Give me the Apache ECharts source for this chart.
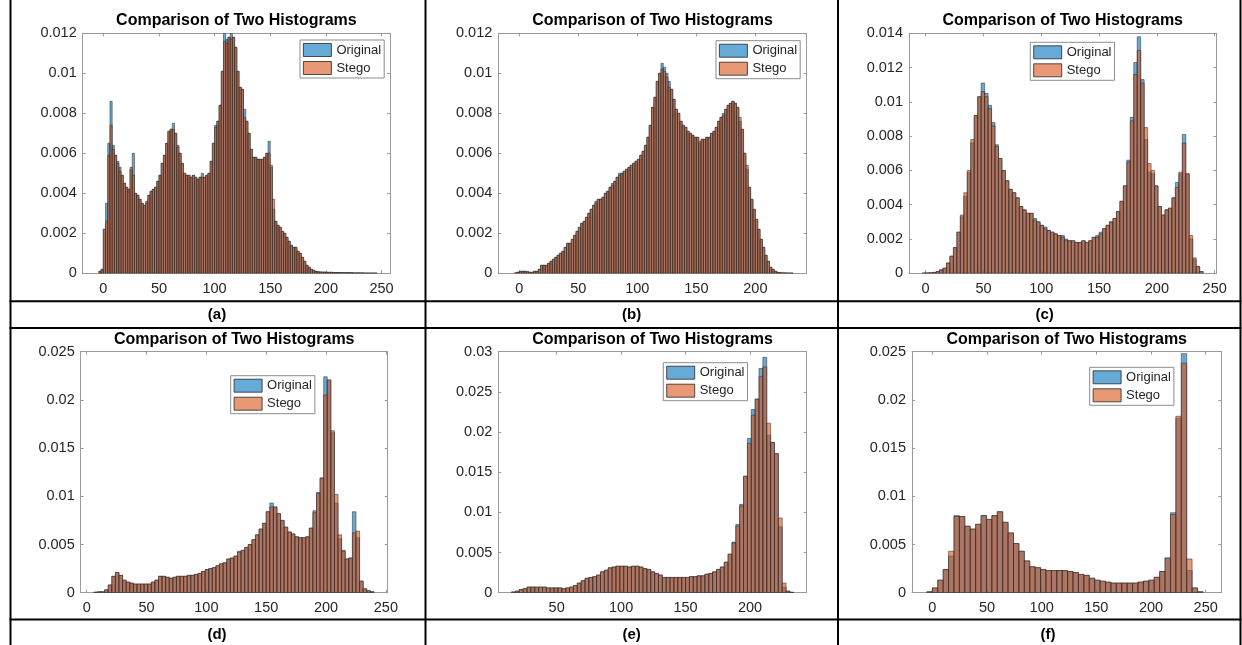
<!DOCTYPE html>
<html>
<head>
<meta charset="utf-8">
<script src="https://cdn.jsdelivr.net/npm/echarts@6/dist/echarts.min.js"></script>
<style>
  html, body { margin: 0; padding: 0; background: #fff; }
  #chart { width: 1242px; height: 645px; }
</style>
</head>
<body>
<div id="chart"></div>
<script>
// ---- data: probability per bin ----
const seriesNames = ['Original', 'Stego'];
const plotTitle = 'Comparison of Two Histograms';
const captions = ['(a)', '(b)', '(c)', '(d)', '(e)', '(f)'];

// (a) bins of width 2 starting at -4
const aStart = -4, aWidth = 2;
const aOriginal = [
  0.0001, 0.0002, 0.0022, 0.0035, 0.0065, 0.0086, 0.0064, 0.0059, 0.0056, 0.0053,
  0.0049, 0.0045, 0.0043, 0.0042, 0.0052, 0.0060, 0.0040, 0.0039, 0.0037, 0.0035,
  0.0034, 0.0036, 0.0039, 0.0041, 0.0042, 0.0043, 0.0046, 0.0049, 0.0055, 0.0059,
  0.0065, 0.0071, 0.0072, 0.0075, 0.0070, 0.0064, 0.0060, 0.0055, 0.0050, 0.0049,
  0.0049, 0.0048, 0.0049, 0.0048, 0.0047, 0.0048, 0.0050, 0.0048, 0.0049, 0.0050,
  0.0056, 0.0065, 0.0074, 0.0076, 0.0084, 0.0101, 0.0120, 0.0117, 0.0118, 0.0120,
  0.0118, 0.0113, 0.0101, 0.0093, 0.0092, 0.0082, 0.0076, 0.0070, 0.0062, 0.0058,
  0.0058, 0.0057, 0.0057, 0.0057, 0.0058, 0.0060, 0.0066, 0.0053, 0.0032, 0.0026,
  0.0024, 0.0023, 0.0021, 0.0020, 0.0018, 0.0016, 0.0014, 0.0013, 0.0013, 0.0011,
  0.0010, 0.0008, 0.0006, 0.0004, 0.0003, 0.0002, 0.00015, 0.0001, 0.00008, 0.00007,
  0.00006, 0.00006, 0.00005, 0.00005, 0.00005, 0.00004, 0.00004, 0.00004, 0.00004, 0.00003,
  0.00003, 0.00003, 0.00003, 0.00003, 0.00002, 0.00002, 0.00002, 0.00002, 0.00002, 0.00001,
  0.00001, 0.00001, 0.00001, 0.00001, 0.00001
];
const aStego = [
  0.0001, 0.0002, 0.0022, 0.0026, 0.0059, 0.0074, 0.0062, 0.0059, 0.0055, 0.0051,
  0.0049, 0.0045, 0.0043, 0.0042, 0.0053, 0.0049, 0.0040, 0.0039, 0.0037, 0.0035,
  0.0034, 0.0035, 0.0039, 0.0041, 0.0042, 0.0043, 0.0046, 0.0049, 0.0055, 0.0059,
  0.0065, 0.0071, 0.0072, 0.0072, 0.0070, 0.0063, 0.0060, 0.0055, 0.0050, 0.0049,
  0.0049, 0.0048, 0.0049, 0.0048, 0.0047, 0.0048, 0.0048, 0.0048, 0.0049, 0.0050,
  0.0056, 0.0065, 0.0073, 0.0076, 0.0084, 0.0101, 0.0116, 0.0115, 0.0118, 0.0117,
  0.0118, 0.0113, 0.0101, 0.0093, 0.0092, 0.0078, 0.0076, 0.0070, 0.0062, 0.0058,
  0.0058, 0.0057, 0.0057, 0.0057, 0.0058, 0.0060, 0.0060, 0.0054, 0.0037, 0.0026,
  0.0024, 0.0023, 0.0021, 0.0020, 0.0018, 0.0016, 0.0014, 0.0013, 0.0013, 0.0011,
  0.0010, 0.0008, 0.0006, 0.0004, 0.0003, 0.0002, 0.00015, 0.0001, 0.00008, 0.00007,
  0.00006, 0.00006, 0.00005, 0.00005, 0.00005, 0.00004, 0.00004, 0.00004, 0.00004, 0.00003,
  0.00003, 0.00003, 0.00003, 0.00003, 0.00002, 0.00002, 0.00002, 0.00002, 0.00002, 0.00001,
  0.00001, 0.00001, 0.00001, 0.00001, 0.00001
];

// (b) bins of width 2 starting at -4
const bStart = -4, bWidth = 2;
const bOriginal = [
  0.00002, 0.00005, 0.0001, 0.0001, 0.0001, 0.00008, 0.00005, 0.00005, 0.0001, 0.0001,
  0.0002, 0.0004, 0.0004, 0.0004, 0.0005, 0.0006, 0.0007, 0.0008, 0.0009, 0.0010,
  0.0011, 0.0013, 0.0015, 0.0015, 0.0017, 0.0019, 0.0021, 0.0023, 0.0025, 0.0026,
  0.0028, 0.0030, 0.0032, 0.0034, 0.0036, 0.0037, 0.0037, 0.0038, 0.0040, 0.0041,
  0.0043, 0.0045, 0.0046, 0.0048, 0.0050, 0.0050, 0.0051, 0.0052, 0.0053, 0.0054,
  0.0055, 0.0056, 0.0057, 0.0059, 0.0061, 0.0064, 0.0068, 0.0074, 0.0083, 0.0088,
  0.0096, 0.0100, 0.0105, 0.0103, 0.0100, 0.0096, 0.0092, 0.0087, 0.0082, 0.0080,
  0.0076, 0.0074, 0.0073, 0.0071, 0.0070, 0.0069, 0.0068, 0.0068, 0.0065, 0.0067,
  0.0067, 0.0068, 0.0068, 0.0070, 0.0071, 0.0073, 0.0076, 0.0078, 0.0080, 0.0082,
  0.0084, 0.0085, 0.0086, 0.0085, 0.0083, 0.0076, 0.0072, 0.0060, 0.0052, 0.0043,
  0.0037, 0.0032, 0.0027, 0.0022, 0.0017, 0.0013, 0.0009, 0.0006, 0.0003, 0.0002,
  0.0001, 0.00005, 0.00003, 0.00002, 0.00002, 0.00001, 0.00001, 0.00001
];
const bStego = [
  0.00002, 0.00005, 0.0001, 0.0001, 0.0001, 0.00008, 0.00005, 0.00005, 0.0001, 0.0001,
  0.0002, 0.0004, 0.0004, 0.0004, 0.0005, 0.0006, 0.0007, 0.0008, 0.0009, 0.0010,
  0.0011, 0.0013, 0.0015, 0.0015, 0.0017, 0.0019, 0.0021, 0.0023, 0.0025, 0.0026,
  0.0028, 0.0030, 0.0032, 0.0034, 0.0035, 0.0037, 0.0037, 0.0038, 0.0040, 0.0041,
  0.0043, 0.0044, 0.0046, 0.0048, 0.0049, 0.0050, 0.0051, 0.0052, 0.0053, 0.0054,
  0.0055, 0.0056, 0.0057, 0.0059, 0.0061, 0.0064, 0.0068, 0.0074, 0.0083, 0.0088,
  0.0096, 0.0100, 0.0102, 0.0101, 0.0098, 0.0093, 0.0092, 0.0087, 0.0082, 0.0080,
  0.0076, 0.0074, 0.0073, 0.0071, 0.0070, 0.0069, 0.0068, 0.0068, 0.0066, 0.0067,
  0.0067, 0.0068, 0.0068, 0.0070, 0.0071, 0.0073, 0.0076, 0.0078, 0.0079, 0.0082,
  0.0084, 0.0085, 0.0086, 0.0085, 0.0083, 0.0078, 0.0072, 0.0060, 0.0054, 0.0043,
  0.0037, 0.0032, 0.0027, 0.0022, 0.0017, 0.0013, 0.0009, 0.0006, 0.0003, 0.0002,
  0.0001, 0.00005, 0.00003, 0.00002, 0.00002, 0.00001, 0.00001, 0.00001
];

// (c) bins of width 3 starting at -3
const cStart = -3, cWidth = 3;
const cOriginal = [
  0.00001, 0.00002, 0.00003, 0.00005, 0.0001, 0.0002, 0.0003, 0.0006, 0.0010, 0.0015,
  0.0024, 0.0033, 0.0045, 0.0059, 0.0076, 0.0092, 0.0103, 0.0111, 0.0105, 0.0098,
  0.0088, 0.0075, 0.0067, 0.0060, 0.0054, 0.0049, 0.0047, 0.0044, 0.0039, 0.0037,
  0.0035, 0.0035, 0.0032, 0.0030, 0.0028, 0.0027, 0.0025, 0.0024, 0.0023, 0.0022,
  0.0022, 0.0020, 0.0019, 0.0019, 0.0018, 0.0018, 0.0019, 0.0018, 0.0019, 0.0021,
  0.0022, 0.0024, 0.0026, 0.0028, 0.0030, 0.0032, 0.0036, 0.0042, 0.0051, 0.0066,
  0.0091, 0.0123, 0.0138, 0.0113, 0.0078, 0.0059, 0.0058, 0.0051, 0.0039, 0.0034,
  0.0037, 0.0038, 0.0044, 0.0053, 0.0058, 0.0081, 0.0058, 0.0020, 0.0008, 0.0004,
  0.0001
];
const cStego = [
  0.00001, 0.00002, 0.00003, 0.00005, 0.0001, 0.0002, 0.0003, 0.0006, 0.0010, 0.0015,
  0.0024, 0.0034, 0.0047, 0.0060, 0.0078, 0.0092, 0.0103, 0.0106, 0.0103, 0.0096,
  0.0086, 0.0074, 0.0067, 0.0060, 0.0054, 0.0049, 0.0047, 0.0044, 0.0039, 0.0037,
  0.0035, 0.0035, 0.0031, 0.0030, 0.0028, 0.0026, 0.0025, 0.0024, 0.0023, 0.0022,
  0.0021, 0.0019, 0.0019, 0.0019, 0.0018, 0.0018, 0.0019, 0.0018, 0.0019, 0.0021,
  0.0021, 0.0023, 0.0026, 0.0028, 0.0030, 0.0032, 0.0036, 0.0042, 0.0051, 0.0065,
  0.0089, 0.0116, 0.0130, 0.0111, 0.0085, 0.0064, 0.0060, 0.0051, 0.0039, 0.0034,
  0.0037, 0.0038, 0.0044, 0.0050, 0.0059, 0.0076, 0.0058, 0.0022, 0.0009, 0.0004,
  0.0001
];

// (d) bins of width 3 starting at 6
const dStart = 6, dWidth = 3;
const dOriginal = [
  0.00005, 0.0001, 0.0001, 0.0003, 0.0008, 0.0017, 0.0021, 0.0018, 0.0013, 0.0011,
  0.0010, 0.0009, 0.0009, 0.0009, 0.0009, 0.0009, 0.0011, 0.0013, 0.0017, 0.0017,
  0.0016, 0.0015, 0.0016, 0.0017, 0.0017, 0.0017, 0.0018, 0.0018, 0.0019, 0.0020,
  0.0022, 0.0024, 0.0025, 0.0026, 0.0028, 0.0030, 0.0031, 0.0035, 0.0036, 0.0038,
  0.0043, 0.0044, 0.0047, 0.0050, 0.0055, 0.0060, 0.0066, 0.0072, 0.0084, 0.0093,
  0.0089, 0.0082, 0.0075, 0.0068, 0.0063, 0.0061, 0.0058, 0.0057, 0.0057, 0.0058,
  0.0067, 0.0085, 0.0104, 0.0119, 0.0224, 0.0220, 0.0166, 0.0093, 0.0056, 0.0044,
  0.0035, 0.0036, 0.0084, 0.0057, 0.0012, 0.0004, 0.0002, 0.0001
];
const dStego = [
  0.00005, 0.0001, 0.0001, 0.0003, 0.0008, 0.0017, 0.0021, 0.0018, 0.0013, 0.0011,
  0.0010, 0.0009, 0.0009, 0.0009, 0.0009, 0.0009, 0.0011, 0.0013, 0.0017, 0.0017,
  0.0016, 0.0015, 0.0016, 0.0017, 0.0017, 0.0017, 0.0018, 0.0018, 0.0019, 0.0020,
  0.0022, 0.0024, 0.0025, 0.0026, 0.0028, 0.0030, 0.0031, 0.0035, 0.0036, 0.0038,
  0.0042, 0.0044, 0.0047, 0.0050, 0.0055, 0.0060, 0.0066, 0.0072, 0.0084, 0.0089,
  0.0089, 0.0082, 0.0075, 0.0068, 0.0063, 0.0061, 0.0058, 0.0057, 0.0057, 0.0058,
  0.0067, 0.0083, 0.0103, 0.0119, 0.0205, 0.0221, 0.0168, 0.0102, 0.0060, 0.0043,
  0.0035, 0.0036, 0.0062, 0.0064, 0.0012, 0.0004, 0.0002, 0.0001
];

// (e) bins of width 3 starting at 15
const eStart = 15, eWidth = 3;
const eOriginal = [
  0.0001, 0.0002, 0.0004, 0.0005, 0.0007, 0.0007, 0.0007, 0.0007, 0.0007, 0.0006,
  0.0006, 0.0006, 0.0006, 0.0005, 0.0006, 0.0007, 0.0009, 0.0012, 0.0015, 0.0018,
  0.0019, 0.0020, 0.0022, 0.0026, 0.0028, 0.0031, 0.0032, 0.0033, 0.0033, 0.0033,
  0.0032, 0.0033, 0.0033, 0.0032, 0.0030, 0.0029, 0.0026, 0.0024, 0.0022, 0.0019,
  0.0019, 0.0019, 0.0019, 0.0019, 0.0019, 0.0019, 0.0020, 0.0020, 0.0021, 0.0021,
  0.0023, 0.0024, 0.0026, 0.0029, 0.0032, 0.0038, 0.0048, 0.0063, 0.0085, 0.0110,
  0.0145, 0.0192, 0.0228, 0.0241, 0.0279, 0.0293, 0.0196, 0.0187, 0.0173, 0.0082,
  0.0007, 0.0002, 0.00005
];
const eStego = [
  0.0001, 0.0002, 0.0004, 0.0005, 0.0007, 0.0007, 0.0007, 0.0007, 0.0007, 0.0006,
  0.0006, 0.0006, 0.0006, 0.0005, 0.0006, 0.0007, 0.0009, 0.0012, 0.0015, 0.0018,
  0.0019, 0.0020, 0.0022, 0.0026, 0.0028, 0.0031, 0.0032, 0.0033, 0.0033, 0.0033,
  0.0032, 0.0033, 0.0033, 0.0032, 0.0030, 0.0029, 0.0026, 0.0024, 0.0022, 0.0019,
  0.0019, 0.0019, 0.0019, 0.0019, 0.0019, 0.0019, 0.0020, 0.0020, 0.0021, 0.0021,
  0.0023, 0.0024, 0.0026, 0.0029, 0.0032, 0.0038, 0.0048, 0.0062, 0.0083, 0.0108,
  0.0145, 0.0186, 0.0221, 0.0241, 0.0269, 0.0281, 0.0211, 0.0187, 0.0173, 0.0093,
  0.0012, 0.0002, 0.00005
];

// (f) bins of width ~4.95 starting one bin below 0
const fStart = -4.95, fWidth = 4.95;
const fOriginal = [
  0.0001, 0.0005, 0.0013, 0.0024, 0.0038, 0.0080, 0.0079, 0.0069, 0.0066, 0.0071,
  0.0080, 0.0076, 0.0080, 0.0084, 0.0073, 0.0062, 0.0051, 0.0043, 0.0033, 0.0027,
  0.0026, 0.0024, 0.0023, 0.0023, 0.0023, 0.0023, 0.0022, 0.0021, 0.0019, 0.0018,
  0.0015, 0.0013, 0.0012, 0.0011, 0.0010, 0.0010, 0.0010, 0.0010, 0.0010, 0.0011,
  0.0012, 0.0013, 0.0016, 0.0022, 0.0036, 0.0083, 0.0181, 0.0248, 0.0023, 0.0005,
  0.0001
];
const fStego = [
  0.0001, 0.0005, 0.0013, 0.0024, 0.0043, 0.0079, 0.0079, 0.0069, 0.0066, 0.0071,
  0.0080, 0.0076, 0.0080, 0.0084, 0.0073, 0.0062, 0.0051, 0.0043, 0.0033, 0.0027,
  0.0026, 0.0024, 0.0023, 0.0023, 0.0023, 0.0023, 0.0022, 0.0021, 0.0019, 0.0018,
  0.0015, 0.0013, 0.0012, 0.0011, 0.0010, 0.0010, 0.0010, 0.0010, 0.0010, 0.0011,
  0.0012, 0.0013, 0.0016, 0.0022, 0.0036, 0.0081, 0.0183, 0.0238, 0.0035, 0.0005,
  0.0001
];

const histograms = [
  { start: aStart, width: aWidth, original: aOriginal, stego: aStego },
  { start: bStart, width: bWidth, original: bOriginal, stego: bStego },
  { start: cStart, width: cWidth, original: cOriginal, stego: cStego },
  { start: dStart, width: dWidth, original: dOriginal, stego: dStego },
  { start: eStart, width: eWidth, original: eOriginal, stego: eStego },
  { start: fStart, width: fWidth, original: fOriginal, stego: fStego }
];

// y axis top value and step per panel
const yMax = [0.012, 0.012, 0.014, 0.025, 0.03, 0.025];
const yStep = [0.002, 0.002, 0.002, 0.005, 0.005, 0.005];

// ---- layout (pixels) ----
const layout = [
  { grid: [82.7, 33.3, 307.3, 240], x: [-18.5, 257.6], legend: [300, 40], title: [236.4, 20.7], caption: [217, 315] },
  { grid: [498.3, 33.3, 308.4, 240], x: [-17.8, 243.5], legend: [716, 40.7], title: [652.5, 20.7], caption: [631.7, 315] },
  { grid: [909, 33.3, 307.3, 240], x: [-14.4, 251.4], legend: [1030.3, 42.3], title: [1062.7, 20.7], caption: [1044.7, 315] },
  { grid: [80.7, 351.7, 307, 241], x: [-5, 251.5], legend: [230.7, 375.7], title: [234.2, 340], caption: [217, 635] },
  { grid: [498.3, 351.7, 308.4, 241], x: [4.7, 244], legend: [663.3, 362.7], title: [652.5, 340], caption: [631.7, 635] },
  { grid: [912, 351.7, 309.3, 241], x: [-18.6, 264.3], legend: [1089.7, 367.3], title: [1066.7, 340], caption: [1048, 635] }
];

const FONT = '"Liberation Sans", Arial, Helvetica, sans-serif';
const BOX = '#9a9a9a';
const TEXT = '#262626';
const fills = ['rgba(0,114,189,0.6)', 'rgba(217,83,25,0.6)'];

const chart = echarts.init(document.getElementById('chart'), null, { renderer: 'canvas' });

function toBins(start, width, values) {
  return values.map((v, i) => [start + i * width, start + (i + 1) * width, v]);
}

function renderBin(params, api) {
  const p0 = api.coord([api.value(0), api.value(2)]);
  const p1 = api.coord([api.value(1), 0]);
  return {
    type: 'rect',
    shape: { x: p0[0], y: p0[1], width: p1[0] - p0[0], height: p1[1] - p0[1] },
    style: { fill: fills[params.seriesIndex % 2], stroke: '#262626', lineWidth: 0.5 }
  };
}

const grid = [], xAxis = [], yAxis = [], series = [], legend = [], graphic = [];

layout.forEach((L, i) => {
  grid.push({ left: L.grid[0], top: L.grid[1], width: L.grid[2], height: L.grid[3], containLabel: false });

  const xBase = {
    gridIndex: i, type: 'value', min: L.x[0], max: L.x[1],
    minInterval: 50, maxInterval: 50,
    axisLine: { show: true, onZero: false, lineStyle: { color: BOX, width: 1 } },
    axisTick: { show: true, inside: true, length: 3, lineStyle: { color: BOX } },
    splitLine: { show: false }
  };
  xAxis.push(Object.assign({}, xBase, {
    position: 'bottom',
    axisLabel: { showMinLabel: false, showMaxLabel: false, color: TEXT, fontSize: 14.5, fontFamily: FONT, margin: 8 }
  }));
  xAxis.push(Object.assign({}, xBase, { position: 'top', axisLabel: { show: false } }));

  const yBase = {
    gridIndex: i, type: 'value', min: 0, max: yMax[i], interval: yStep[i],
    axisLine: { show: true, onZero: false, lineStyle: { color: BOX, width: 1 } },
    axisTick: { show: true, inside: true, length: 3, lineStyle: { color: BOX } },
    splitLine: { show: false }
  };
  yAxis.push(Object.assign({}, yBase, {
    position: 'left',
    axisLabel: { color: TEXT, fontSize: 14.5, fontFamily: FONT, margin: 6 }
  }));
  yAxis.push(Object.assign({}, yBase, { position: 'right', axisLabel: { show: false } }));

  const h = histograms[i];
  [h.original, h.stego].forEach((vals, k) => {
    series.push({
      type: 'custom',
      name: seriesNames[k],
      xAxisIndex: 2 * i,
      yAxisIndex: 2 * i,
      clip: true,
      renderItem: renderBin,
      itemStyle: { color: fills[k], borderColor: '#262626', borderWidth: 0.8 },
      encode: { x: [0, 1], y: 2 },
      data: toBins(h.start, h.width, vals)
    });
  });

  legend.push({
    data: seriesNames,
    orient: 'vertical',
    left: L.legend[0],
    top: L.legend[1],
    padding: [3, 3, 3, 3],
    itemGap: 4,
    itemWidth: 28,
    itemHeight: 13,
    icon: 'rect',
    backgroundColor: '#fff',
    borderColor: '#8c8c8c',
    borderWidth: 1,
    selectedMode: false,
    itemStyle: { borderColor: '#262626', borderWidth: 0.8 },
    textStyle: { fontSize: 13, color: TEXT, fontFamily: FONT, lineHeight: 14 }
  });

  graphic.push({
    type: 'text', x: L.title[0], y: L.title[1],
    style: { text: plotTitle, font: 'bold 16px ' + FONT, fill: '#000', textAlign: 'center', textVerticalAlign: 'middle' }
  });
  graphic.push({
    type: 'text', x: L.caption[0], y: L.caption[1],
    style: { text: captions[i], font: 'bold 15px ' + FONT, fill: '#000', textAlign: 'center', textVerticalAlign: 'middle' }
  });
});

// table rules
const rules = [
  [9.5, 0, 2, 645], [424.5, 0, 2, 645], [837, 0, 2, 645], [1239.5, 0, 2, 645],
  [9.5, 300.2, 1232, 2], [9.5, 327, 1232, 2], [9.5, 618.5, 1232, 2]
];
rules.forEach(r => {
  graphic.push({ type: 'rect', shape: { x: r[0], y: r[1], width: r[2], height: r[3] }, style: { fill: '#000' }, silent: true });
});

chart.setOption({
  animation: false,
  backgroundColor: '#fff',
  grid, xAxis, yAxis, series, legend, graphic
});
</script>
</body>
</html>
